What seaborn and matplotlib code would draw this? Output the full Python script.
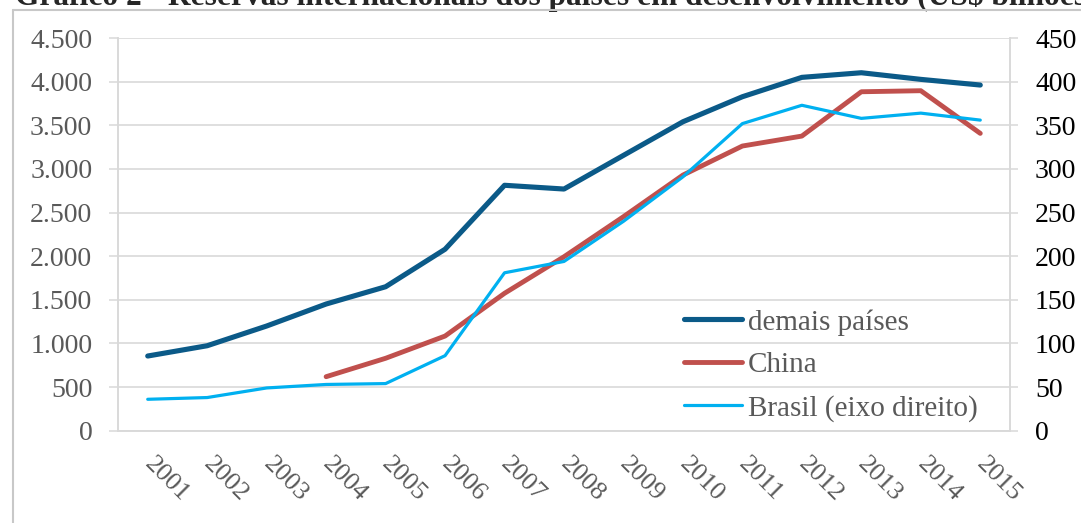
import pandas as pd
import numpy as np
import seaborn as sns
import matplotlib.pyplot as plt
from matplotlib.lines import Line2D

# data (US$ bilhões)
anos = [2001, 2002, 2003, 2004, 2005, 2006, 2007, 2008, 2009, 2010, 2011, 2012, 2013, 2014, 2015]
demais_paises = [856, 974, 1200, 1452, 1650, 2080, 2813, 2770, 3156, 3541, 3828, 4050, 4103, 4027, 3962]
china = [np.nan, np.nan, np.nan, 619, 830, 1085, 1575, 1994, 2453, 2930, 3263, 3377, 3885, 3897, 3408]
brasil = [36, 38, 49, 53, 54, 86, 181, 194, 240, 291, 352, 373, 358, 364, 356]

titulo = 'Gráfico 2 - Reservas internacionais dos países em desenvolvimento (US$ bilhões)'
nomes = ['demais países', 'China', 'Brasil (eixo direito)']
cores = ['#0b5a88', '#c0504d', '#00b0f0']

df = pd.DataFrame({'ano': anos, 'demais': demais_paises, 'china': china, 'brasil': brasil})

sns.set_style('white')
plt.rcParams['font.family'] = ['Liberation Serif', 'DejaVu Serif']

W, H = 1081, 523
fig = plt.figure(figsize=(W / 100, H / 100), dpi=100)
ax = fig.add_axes([118 / W, 1 - 430.7 / H, (1010 - 118) / W, (430.7 - 38.1) / H])
ax2 = ax.twinx()

# outer chart frame (only top and left edges fall inside the picture)
frame_col = '#c8c8c8'
fig.add_artist(Line2D([12.5 / W, 12.5 / W], [0, 1 - 10 / H], transform=fig.transFigure,
                      color=frame_col, linewidth=1.5, zorder=10))
fig.add_artist(Line2D([12.5 / W, 1], [1 - 10 / H, 1 - 10 / H], transform=fig.transFigure,
                      color=frame_col, linewidth=1.5, zorder=10))
fig.text(15 / W, 1 - 4.5 / H, titulo, fontsize=22.6, fontweight='bold', ha='left', va='baseline')

sns.lineplot(data=df, x='ano', y='demais', ax=ax, color=cores[0], linewidth=3.7, solid_capstyle='round')
sns.lineplot(data=df.dropna(), x='ano', y='china', ax=ax, color=cores[1], linewidth=3.5, solid_capstyle='round')
sns.lineplot(data=df, x='ano', y='brasil', ax=ax2, color=cores[2], linewidth=2.3, solid_capstyle='round')

grey = '#595959'
grid = '#d9d9d9'

ax.set_xlim(anos[0] - 0.5, anos[-1] + 0.5)
ax.set_ylim(0, 4500)
ax2.set_ylim(0, 450)

ax.set_yticks(range(0, 4501, 500))
ax.set_yticklabels([f'{v:,}'.replace(',', '.') for v in range(0, 4501, 500)])
ax2.set_yticks(range(0, 451, 50))

ax.set_xticks(anos)
ax.set_xticks([a - 0.5 for a in anos] + [anos[-1] + 0.5], minor=True)
ax.set_xticklabels([str(a) for a in anos], rotation=-45, ha='left', va='center',
                   rotation_mode='anchor')

ax.tick_params(axis='x', which='major', length=0, labelsize=19, labelcolor=grey, pad=22)
ax.tick_params(axis='x', which='minor', length=5, width=1.2, color=grid, direction='in')
ax.tick_params(axis='y', length=6.5, width=1.1, color=grid, labelsize=20, labelcolor=grey, pad=12)
ax2.tick_params(axis='y', length=6, width=1.1, color=grid, labelsize=20, labelcolor='black', pad=12)

ax.grid(axis='y', color=grid, linewidth=1.2)
ax.set_axisbelow(True)
for a in (ax, ax2):
    a.set_xlabel('')
    a.set_ylabel('')
    for side in ('left', 'right', 'bottom'):
        a.spines[side].set_color(grid)
        a.spines[side].set_linewidth(1.2)
    a.spines['top'].set_visible(False)

handles = [Line2D([], [], color=cores[0], linewidth=3.7, solid_capstyle='round'),
           Line2D([], [], color=cores[1], linewidth=3.5, solid_capstyle='round'),
           Line2D([], [], color=cores[2], linewidth=2.3, solid_capstyle='round')]
leg = ax2.legend(handles, nomes, loc='upper left', bbox_to_anchor=(684 / W, 1 - 309 / H),
                 bbox_transform=fig.transFigure, frameon=False, fontsize=21, handlelength=2.0,
                 handletextpad=0.2, labelspacing=0.56, borderpad=0, borderaxespad=0)
for t in leg.get_texts():
    t.set_color(grey)

fig.savefig('out.png', dpi=100)
